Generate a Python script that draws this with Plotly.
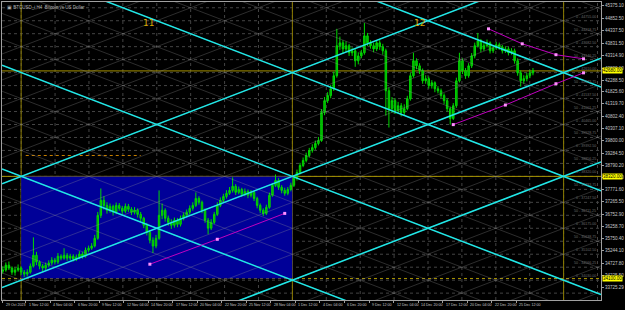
import plotly.graph_objects as go

# ---------------- data (H8 candles, x in H4-bar units) ----------------
closes = [34450, 34650, 34530, 34360, 34450, 34530, 34360, 34280, 34360, 34610,
          35060, 34780, 34610, 34530, 34650, 34740, 34860, 34780, 35020, 34940,
          35060, 34940, 35020, 34900, 34980, 35110, 35020, 35270, 35350, 35440,
          35760, 36710, 37330, 37120, 36920, 37080, 36840, 37120, 37000, 36880,
          37080, 36960, 36840, 36920, 36750, 36590, 36300, 36010, 35680, 35440,
          35760, 36710, 36920, 36590, 36420, 36300, 36510, 36340, 36590, 36710,
          36840, 37000, 37120, 37410, 37250, 36920, 36510, 36180, 36420, 36750,
          37120, 37330, 37490, 37620, 37740, 37910, 37660, 37780, 37580, 37700,
          37540, 37660, 37410, 37120, 36920, 36790, 37040, 37540, 37950, 38150,
          37870, 37740, 37620, 37780, 37950, 38240, 38480, 38770, 38980, 39180,
          39390, 39510, 39680, 39800, 40960, 41450, 41660, 41940, 42480, 43720,
          43840, 43590, 43720, 43430, 43510, 43100, 43300, 43430, 44130, 43840,
          43720, 43590, 43840, 43680, 43510, 41860, 41120, 41450, 41040, 41240,
          40960, 41120, 41530, 42480, 43100, 42890, 42690, 42270, 42360, 42070,
          42190, 41940, 41860, 41660, 41450, 41120, 40710, 41240, 42270, 43100,
          42690, 42480, 42890, 43300, 43720, 43920, 43590, 43720, 43840, 43510,
          43630, 43760, 43670, 43510, 43590, 43430, 43510, 43100, 42600, 42270,
          42360, 42480, 42600, 42690]
highs = [34600, 34760, 34800, 34600, 34560, 34680, 34600, 34450, 34480, 34720,
         35800, 35200, 34850, 34700, 34760, 34850, 34980, 34950, 35150, 35100,
         35350, 35150, 35120, 35100, 35090, 35230, 35200, 35380, 35460, 35560,
         35900, 36850, 37820, 37500, 37250, 37200, 37150, 37240, 37220, 37100,
         37200, 37180, 37050, 37050, 37000, 36850, 36650, 36400, 36100, 35800,
         35900, 37740, 37200, 37000, 36700, 36550, 36620, 36600, 36700, 36820,
         36950, 37120, 37250, 37660, 37500, 37320, 37000, 36600, 36550, 36850,
         37250, 37450, 37600, 37750, 37880, 38280, 38000, 37900, 37850, 37820,
         37780, 37760, 37720, 37480, 37200, 37000, 37150, 37650, 38050, 38400,
         38250, 37960, 37850, 37880, 38060, 38350, 38600, 38880, 39100, 39300,
         39500, 39650, 39800, 39950, 41100, 41600, 41800, 42100, 42650, 44420,
         44100, 43950, 43900, 43800, 43650, 43600, 43450, 43550, 44660, 44250,
         43950, 43850, 43950, 43950, 43800, 43600, 42000, 41600, 41550, 41400,
         41350, 41300, 41650, 42600, 43430, 43200, 43000, 42780, 42500, 42450,
         42300, 42250, 42050, 41950, 41750, 41550, 41200, 41350, 42400, 43430,
         43200, 42800, 43000, 43420, 43850, 44250, 44000, 43850, 43980, 43900,
         43750, 43880, 43850, 43750, 43700, 43680, 43620, 43600, 43200, 42700,
         42500, 42600, 42720, 42800]
lows = [34300, 34380, 34450, 34250, 34220, 34380, 34240, 34150, 34180, 34300,
        34550, 34650, 34480, 34400, 34450, 34560, 34650, 34680, 34700, 34850,
        34880, 34830, 34860, 34800, 34820, 34900, 34920, 34960, 35180, 35280,
        35380, 35700, 36600, 36950, 36780, 36820, 36700, 36760, 36900, 36760,
        36800, 36850, 36720, 36750, 36620, 36450, 36180, 35880, 35550, 35150,
        35350, 35700, 36550, 36450, 36280, 36150, 36200, 36220, 36250, 36500,
        36620, 36750, 36900, 37050, 37150, 36800, 36400, 35930, 36100, 36350,
        36680, 37050, 37250, 37400, 37550, 37650, 37550, 37580, 37480, 37500,
        37420, 37450, 37300, 37000, 36800, 36680, 36720, 36980, 37480, 37880,
        37760, 37620, 37520, 37540, 37700, 37880, 38150, 38400, 38700, 38900,
        39100, 39300, 39420, 39600, 39750, 40850, 41350, 41550, 41850, 42400,
        43550, 43400, 43450, 43300, 43300, 42850, 42950, 43200, 43350, 43700,
        43600, 43450, 43500, 43550, 43350, 40830, 40340, 40950, 40900, 40950,
        40800, 40850, 41050, 41450, 42400, 42750, 42550, 42150, 42150, 41950,
        41950, 41800, 41750, 41550, 41300, 41000, 40460, 40650, 41150, 42200,
        42550, 42350, 42400, 42800, 43200, 43650, 43450, 43500, 43650, 43400,
        43420, 43550, 43550, 43400, 43420, 43320, 43350, 42980, 42480, 42030,
        42150, 42250, 42380, 42500]
first_open = 34400
opens = [first_open] + closes[:-1]
bars = [2 * k for k in range(len(closes))]

# price axis labels
price_ticks = [45375.10, 44852.50, 44337.50, 43831.50, 43314.90, 42800.10,
               42288.50, 41825.60, 41319.70, 40802.40, 40307.10, 39800.00,
               39284.50, 38790.20, 38281.50, 37771.60, 37265.50, 36752.90,
               36258.70, 35750.40, 35244.10, 34727.80, 34225.50, 33725.29]

# time axis labels (left aligned at bar index)
date_labels = ["29 Oct 2023", "1 Nov 12:00", "4 Nov 04:00", "6 Nov 20:00",
               "9 Nov 12:00", "12 Nov 04:00", "14 Nov 20:00", "17 Nov 12:00",
               "20 Nov 04:00", "22 Nov 20:00", "25 Nov 12:00", "28 Nov 04:00",
               "1 Dec 12:00", "4 Dec 04:00", "6 Dec 20:00", "9 Dec 12:00",
               "12 Dec 04:00", "14 Dec 20:00", "17 Dec 12:00", "20 Dec 04:00",
               "22 Dec 20:00", "25 Dec 12:00"]
date_bars = [0, 15, 31, 47, 63, 79, 95, 111, 127, 143, 159, 175, 191, 207,
             223, 239, 255, 271, 287, 303, 319, 335]

# drawn objects
node_bars = [12, 189, 366]                 # vertical olive lines
level_prices = [42680, 38320, 34100]        # horizontal olive lines
level_labels = ["42680.00", "38320.00", "34100.00"]
rect_bars = [12, 189]
rect_prices = [34100, 38320]
grid_center = (12, 38320)                  # gann-like lattice anchor
grid_slope = 24.24                         # price per bar
grid_spacing = 1072.5                      # price between parallel lines
cyan_down = [0, 4, 8, 12]
cyan_up = [0, -4, -8]
dotted_level = (15, 90, 39184)
mag1_bars = [96, 140, 184]
mag1_prices = [34690, 35720, 36790]
mag2_bars = [317, 339, 361, 379]
mag2_prices = [44420, 43800, 43350, 43180]
mag3_bars = [294, 328, 361, 379]
mag3_prices = [40460, 41270, 42150, 42600]
wave_labels = [("11", 95, 44660), ("12", 272, 44660)]

XR = [-0.5, 390.4]
YR = [33210, 45529]

fig = go.Figure()

# lattice lines
cx, cp = grid_center
def line_pts(sign, j):
    return [(x, cp + sign * grid_slope * (x - cx) + j * grid_spacing) for x in XR]

gx, gy = [], []
for sign in (-1, 1):
    for j in range(-20, 21):
        pts = line_pts(sign, j)
        gx += [pts[0][0], pts[1][0], None]
        gy += [pts[0][1], pts[1][1], None]
fig.add_trace(go.Scatter(x=gx, y=gy, mode="lines",
                         line=dict(color="rgba(150,150,150,0.38)", width=0.8),
                         hoverinfo="skip", showlegend=False))

# candles
fig.add_trace(go.Candlestick(
    x=bars, open=opens, high=highs, low=lows, close=closes,
    increasing=dict(line=dict(color="#00d800", width=1), fillcolor="#00a800"),
    decreasing=dict(line=dict(color="#00d800", width=1), fillcolor="#00a800"),
    whiskerwidth=0, showlegend=False, hoverinfo="skip"))

# cyan lines
cx_, cy_ = [], []
for j in cyan_down:
    pts = line_pts(-1, j)
    cx_ += [pts[0][0], pts[1][0], None]
    cy_ += [pts[0][1], pts[1][1], None]
for j in cyan_up:
    pts = line_pts(1, j)
    cx_ += [pts[0][0], pts[1][0], None]
    cy_ += [pts[0][1], pts[1][1], None]
fig.add_trace(go.Scatter(x=cx_, y=cy_, mode="lines",
                         line=dict(color="#20e8e8", width=1.5),
                         hoverinfo="skip", showlegend=False))

# magenta channels
for bx, py in ((mag1_bars, mag1_prices), (mag2_bars, mag2_prices), (mag3_bars, mag3_prices)):
    fig.add_trace(go.Scatter(x=bx, y=py, mode="lines+markers",
                             line=dict(color="#c000c0", width=1),
                             marker=dict(symbol="square", size=3, color="#ff90ff"),
                             hoverinfo="skip", showlegend=False))

shapes = []
# rectangle
shapes.append(dict(type="rect", xref="x", yref="y", x0=rect_bars[0], x1=rect_bars[1],
                   y0=rect_prices[0], y1=rect_prices[1], fillcolor="#000098",
                   line=dict(width=0), layer="below"))
# dotted vertical / horizontal grid at lattice vertices
k = -1
while True:
    xv = cx + k * (node_bars[1] - node_bars[0]) / 8
    if xv > XR[1]:
        break
    if xv >= XR[0]:
        shapes.append(dict(type="line", xref="x", yref="paper", x0=xv, x1=xv, y0=0, y1=1,
                           line=dict(color="#444444", width=1, dash="dot"), layer="between"))
    k += 1
for m in range(-20, 21):
    yv = cp + m * grid_spacing / 2
    if YR[0] <= yv <= YR[1]:
        shapes.append(dict(type="line", xref="paper", yref="y", x0=0, x1=1, y0=yv, y1=yv,
                           line=dict(color="#444444", width=1, dash="dot"), layer="between"))
# olive vertical lines
for b in node_bars:
    shapes.append(dict(type="line", xref="x", yref="paper", x0=b, x1=b, y0=0, y1=1,
                       line=dict(color="#8c7c00", width=1), layer="between"))
# olive horizontal levels
for p, d in zip(level_prices, ["solid", "solid", "dot"]):
    shapes.append(dict(type="line", xref="paper", yref="y", x0=0, x1=1, y0=p, y1=p,
                       line=dict(color="#a89400", width=1, dash=d), layer="between"))
# orange dotted short level
shapes.append(dict(type="line", xref="x", yref="y", x0=dotted_level[0], x1=dotted_level[1],
                   y0=dotted_level[2], y1=dotted_level[2],
                   line=dict(color="#c88000", width=1, dash="dot"), layer="between"))

annotations = []
for lab, b in zip(date_labels, date_bars):
    annotations.append(dict(x=b, y=0, xref="x", yref="paper", text=lab, showarrow=False,
                            xanchor="left", yanchor="top", yshift=-1, xshift=1,
                            font=dict(size=3.6, color="#c8c8c8", family="Liberation Sans")))
for txt, b, p in wave_labels:
    annotations.append(dict(x=b, y=p, xref="x", yref="y", text=txt, showarrow=False,
                            font=dict(size=9, color="#d8a800", family="DejaVu Sans")))
for p, t in zip(level_prices, level_labels):
    annotations.append(dict(x=1, y=p, xref="paper", yref="y", text=t,
                            showarrow=False, xanchor="left", yanchor="middle", xshift=1,
                            bgcolor="#ffff00", borderpad=0,
                            font=dict(size=4.5, color="#000000", family="Liberation Sans")))
# fibo-like grey level texts at right
for m in range(-20, 21):
    yv = cp + m * grid_spacing / 2
    if YR[0] + 300 <= yv <= YR[1] - 300:
        annotations.append(dict(x=1, y=yv, xref="paper", yref="y",
                                text=("50 - %.2f" if m % 2 else "0 - %.2f") % yv,
                                showarrow=False, xanchor="right", yanchor="bottom", xshift=-3,
                                font=dict(size=3.6, color="#6c6c6c", family="Liberation Sans")))
annotations.append(dict(x=0.005, y=0.995, xref="paper", yref="paper",
                        text="\u25a3 BTCUSD_i,H4  Bitcoin vs US Dollar", showarrow=False,
                        xanchor="left", yanchor="top",
                        font=dict(size=4.5, color="#b0b0b0", family="Liberation Sans")))

fig.update_layout(
    width=625, height=310,
    margin=dict(l=2, r=22, t=1, b=10),
    paper_bgcolor="#000000", plot_bgcolor="#000000",
    shapes=shapes, annotations=annotations,
    showlegend=False,
    xaxis=dict(range=XR, showgrid=False, zeroline=False, rangeslider=dict(visible=False),
               tickvals=date_bars, ticktext=[""] * len(date_bars), ticks="outside",
               ticklen=2, tickcolor="#a0a0a0", showline=True, linecolor="#a0a0a0",
               mirror=True, linewidth=1),
    yaxis=dict(range=YR, side="right", showgrid=False, zeroline=False,
               tickvals=price_ticks, ticktext=["%.2f" % v for v in price_ticks],
               ticks="outside", ticklen=2, tickcolor="#a0a0a0",
               tickfont=dict(size=4.5, color="#c8c8c8", family="Liberation Sans"),
               showline=True, linecolor="#a0a0a0", mirror=True, linewidth=1),
)

fig.write_html("out.html")
